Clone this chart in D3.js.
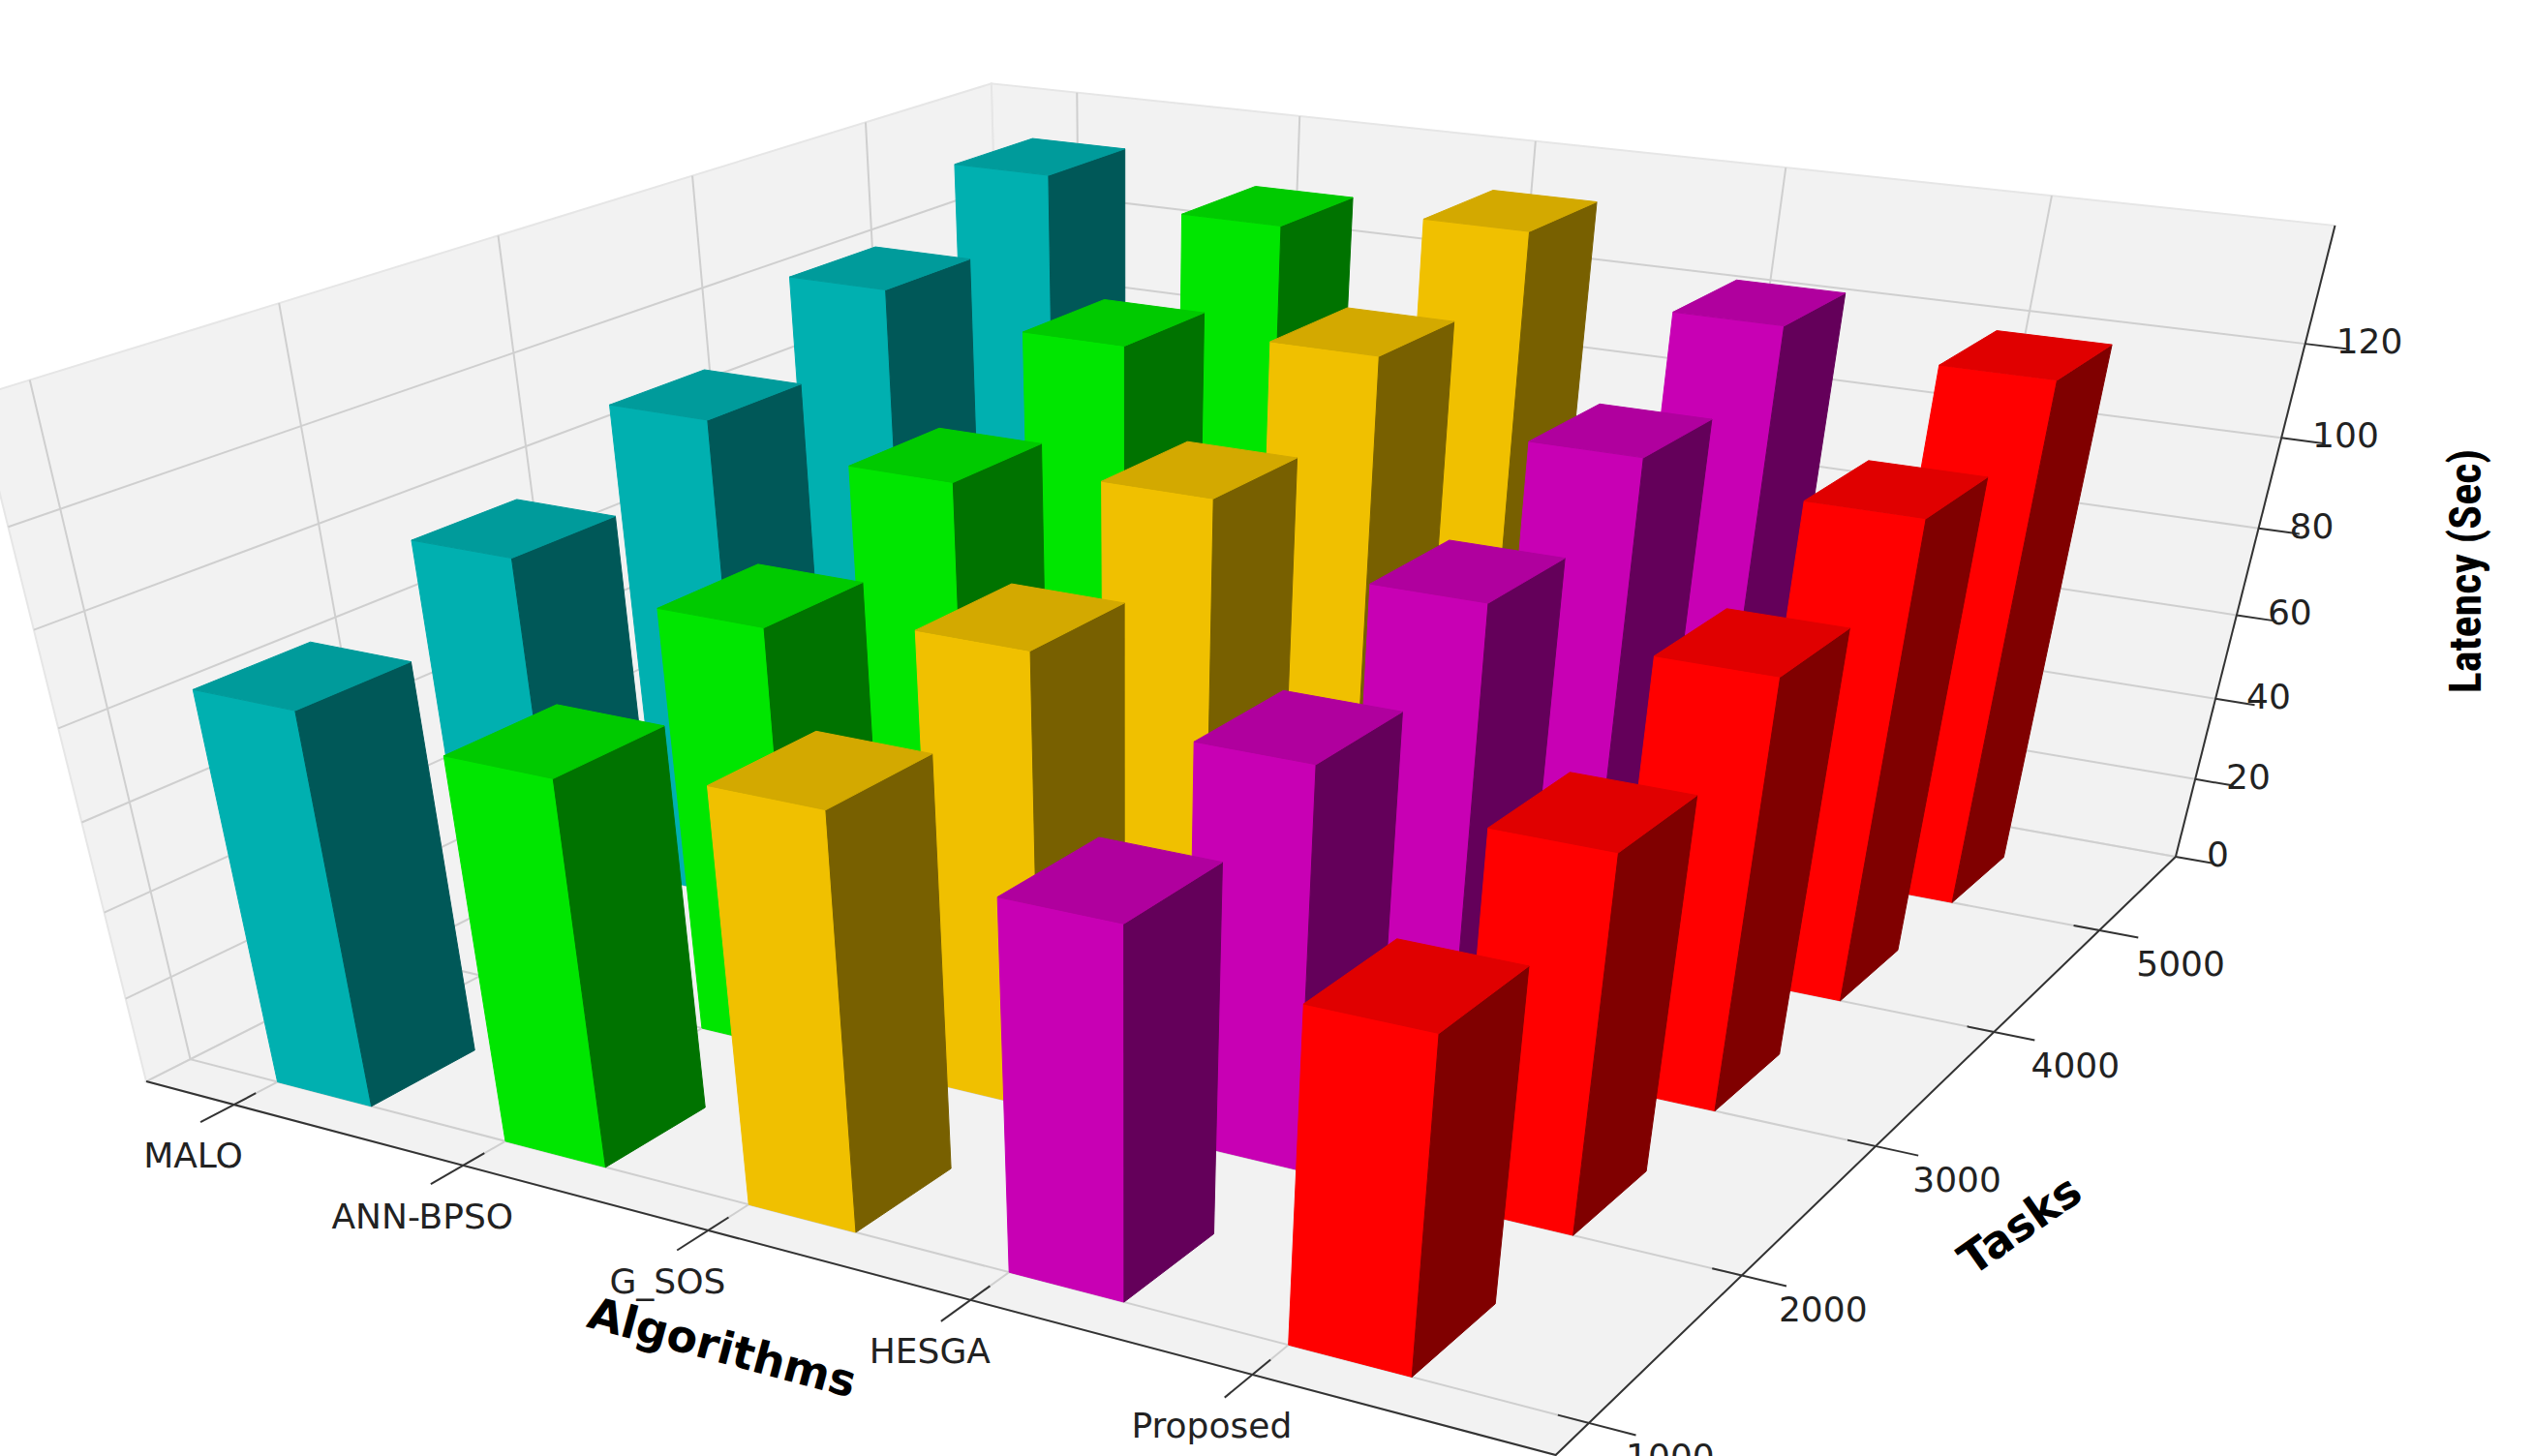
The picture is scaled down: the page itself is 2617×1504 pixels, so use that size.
<!DOCTYPE html>
<html><head><meta charset="utf-8">
<script src="https://cdn.jsdelivr.net/npm/d3@7"></script>
<style>body{margin:0;background:#fff}</style></head>
<body><svg id="c" width="2617" height="1504"></svg>
<script>
const algorithms = ["MALO","ANN-BPSO","G_SOS","HESGA","Proposed"];
const tasks = [1000,2000,3000,4000,5000];
const maloLatency = [88,100,112,125,137];
const annBpsoLatency = [85,95,107,120,132];
const gSosLatency = [90,100,112,125,137];
const hesgaLatency = [80,88,100,112,124];
const proposedLatency = [72,82,95,108,120];
const zTicks = [0,20,40,60,80,100,120];
const series = [maloLatency, annBpsoLatency, gSosLatency, hesgaLatency, proposedLatency];
const barColors = ["#00b0b0","#00e600","#f0c000","#c800b4","#ff0000"];

const svg = d3.select("#c");
const XMIN=-0.4,XMAX=5.0,YMIN=-0.2,YMAX=4.8,ZMAX=144;
const xS = d3.scaleLinear().domain([XMIN,XMAX]).range([-2,2]);
const yS = d3.scaleLinear().domain([YMIN,YMAX]).range([-2,2]);
const zS = d3.scaleLinear().domain([0,ZMAX]).range([-1.5,1.5]);

const el=30*Math.PI/180, az=-60*Math.PI/180, dist=10;
const eye=[dist*Math.cos(el)*Math.cos(az), dist*Math.cos(el)*Math.sin(az), dist*Math.sin(el)];
const norm=v=>{const l=Math.hypot(...v);return v.map(a=>a/l)};
const cross=(a,b)=>[a[1]*b[2]-a[2]*b[1],a[2]*b[0]-a[0]*b[2],a[0]*b[1]-a[1]*b[0]];
const dot=(a,b)=>a[0]*b[0]+a[1]*b[1]+a[2]*b[2];
const w=norm(eye), u=norm(cross([0,0,1],w)), v=cross(w,u);
function raw(x,y,z){const p=[xS(x),yS(y),zS(z)];const d=[p[0]-eye[0],p[1]-eye[1],p[2]-eye[2]];
  const zc=-dot(d,w);return [dot(d,u)/zc, dot(d,v)/zc, zc];}

// affine fit of projected box corners to the figure frame
const K=2617/1560;
const anchors=[
 [[XMIN,YMIN,0],[65,680]],[[XMAX,YMIN,0],[935,865]],[[XMAX,YMAX,0],[1395,555]],
 [[XMIN,YMIN,ZMAX],[35,262]],[[XMIN,YMAX,ZMAX],[570,12]],[[XMAX,YMAX,ZMAX],[1420,150]]];
function solve3(A,b){const M=A.map((r,i)=>[...r,b[i]]);
 for(let c=0;c<3;c++){let p=c;for(let r=c+1;r<3;r++)if(Math.abs(M[r][c])>Math.abs(M[p][c]))p=r;[M[c],M[p]]=[M[p],M[c]];
  for(let r=0;r<3;r++)if(r!==c){const f=M[r][c]/M[c][c];for(let k=c;k<4;k++)M[r][k]-=f*M[c][k];}}
 return M.map((r,i)=>r[3]/r[i]);}
const ATA=[[0,0,0],[0,0,0],[0,0,0]],ATx=[0,0,0],ATy=[0,0,0];
anchors.forEach(([q,s])=>{const r=raw(...q);const row=[r[0],r[1],1];
 for(let i=0;i<3;i++){for(let j=0;j<3;j++)ATA[i][j]+=row[i]*row[j];ATx[i]+=row[i]*s[0]*K;ATy[i]+=row[i]*s[1]*K;}});
const cx=solve3(ATA,ATx), cy=solve3(ATA,ATy);
function P(x,y,z){const r=raw(x,y,z);return [cx[0]*r[0]+cx[1]*r[1]+cx[2], cy[0]*r[0]+cy[1]*r[1]+cy[2]];}
const line=pts=>"M"+pts.map(p=>p.join(",")).join("L")+"Z";
const open=pts=>"M"+pts.map(p=>p.join(",")).join("L");

// panes
const paneFill="#f2f2f2", paneEdge="#e6e6e6";
const panes=[
 [[XMIN,YMAX,0],[XMAX,YMAX,0],[XMAX,YMAX,ZMAX],[XMIN,YMAX,ZMAX]],
 [[XMIN,YMIN,0],[XMIN,YMAX,0],[XMIN,YMAX,ZMAX],[XMIN,YMIN,ZMAX]],
 [[XMIN,YMIN,0],[XMAX,YMIN,0],[XMAX,YMAX,0],[XMIN,YMAX,0]]];
panes.forEach(p=>svg.append("path").attr("d",line(p.map(q=>P(...q)))).attr("fill",paneFill).attr("stroke",paneEdge).attr("stroke-width",2));
const g=svg.append("g").attr("stroke","#cfcfcf").attr("stroke-width",2).attr("fill","none");
d3.range(5).forEach(i=>{
 g.append("path").attr("d",open([P(i,YMIN,0),P(i,YMAX,0),P(i,YMAX,ZMAX)]));
 g.append("path").attr("d",open([P(XMAX,i,0),P(XMIN,i,0),P(XMIN,i,ZMAX)]));
});
zTicks.forEach(t=>g.append("path").attr("d",open([P(XMIN,YMIN,t),P(XMIN,YMAX,t),P(XMAX,YMAX,t)])));

const ax=svg.append("g").attr("stroke","#333").attr("stroke-width",2).attr("fill","none");
ax.append("path").attr("d",open([P(XMIN,YMIN,0),P(XMAX,YMIN,0),P(XMAX,YMAX,0)]));
ax.append("path").attr("d",open([P(XMAX,YMAX,0),P(XMAX,YMAX,ZMAX)]));
d3.range(5).forEach(i=>{
 ax.append("path").attr("d",open([P(i,YMIN+0.1,0),P(i,YMIN-0.15,0)]));
 ax.append("path").attr("d",open([P(XMAX-0.1,i,0),P(XMAX+0.15,i,0)]));
});
zTicks.forEach(t=>ax.append("path").attr("d",open([P(XMAX,YMAX,t),P(XMAX+0.15,YMAX,t)])));

// bars
const bars=[];
series.forEach((vals,i)=>vals.forEach((val,j)=>{
 const r=raw(i+0.2,j+0.25,val/2);bars.push({i,j,val,d:r[2]});}));
bars.sort((a,b)=>b.d-a.d);
const bdx=0.42, bdy=0.5;
bars.forEach(b=>{
 const c=d3.rgb(barColors[b.i]);
 const sh=f=>d3.rgb(c.r*f,c.g*f,c.b*f).formatHex();
 const x0=b.i,x1=b.i+bdx,y0=b.j,y1=b.j+bdy,h=b.val;
 const faces=[
  {pts:[[x0,y0,0],[x1,y0,0],[x1,y0,h],[x0,y0,h]],col:c.formatHex()},
  {pts:[[x1,y0,0],[x1,y1,0],[x1,y1,h],[x1,y0,h]],col:sh(0.5)},
  {pts:[[x0,y0,h],[x1,y0,h],[x1,y1,h],[x0,y1,h]],col:sh(0.88)}];
 faces.forEach(f=>svg.append("path").attr("d",line(f.pts.map(q=>P(...q)))).attr("fill",f.col).attr("stroke",f.col).attr("stroke-width",1));
});

const font="DejaVu Sans, sans-serif";
algorithms.forEach((a,i)=>{const p=P(i,YMIN,0);
 svg.append("text").attr("x",p[0]-42).attr("y",p[1]+55).attr("text-anchor","middle").attr("dominant-baseline","middle")
  .attr("font-family",font).attr("font-size",36).attr("fill","#222").text(a);});
tasks.forEach((t,j)=>{const p=P(XMAX,j,0);
 svg.append("text").attr("x",p[0]+84).attr("y",p[1]+37).attr("text-anchor","middle").attr("dominant-baseline","middle")
  .attr("font-family",font).attr("font-size",36).attr("fill","#222").text(t);});
zTicks.forEach(t=>{const p=P(XMAX,YMAX,t);
 svg.append("text").attr("x",p[0]+32).attr("y",p[1]).attr("text-anchor","start").attr("dominant-baseline","middle")
  .attr("font-family",font).attr("font-size",36).attr("fill","#222").text(t);});
svg.append("text").attr("transform","translate(745,1395) rotate(15)").attr("text-anchor","middle").attr("dominant-baseline","middle")
 .attr("font-family",font).attr("font-weight","bold").attr("font-size",46).attr("fill","#000").text("Algorithms");
svg.append("text").attr("transform","translate(2088,1268) rotate(-35)").attr("text-anchor","middle").attr("dominant-baseline","middle")
 .attr("font-family",font).attr("font-weight","bold").attr("font-size",46).attr("fill","#000").text("Tasks");
svg.append("text").attr("transform","translate(2550,590) rotate(-90)").attr("text-anchor","middle").attr("dominant-baseline","middle")
 .attr("font-family","'Liberation Sans Narrow','Roboto Condensed',sans-serif").attr("font-weight","bold").attr("font-size",46).attr("fill","#000").text("Latency (Sec)");
</script></body></html>
